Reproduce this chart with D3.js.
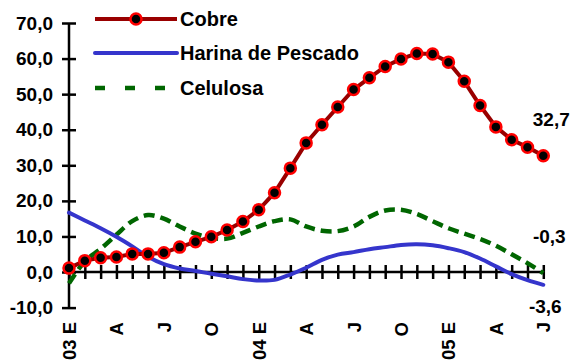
<!DOCTYPE html>
<html>
<head>
<meta charset="utf-8">
<script src="https://cdn.jsdelivr.net/npm/d3@7"></script>
<style>
  html, body { margin: 0; padding: 0; background: #fff; }
  svg { display: block; font-family: Arial, "Liberation Sans", sans-serif; }
</style>
</head>
<body>
<svg id="chart" width="573" height="363"></svg>
<script>
// Monthly series, Jan 2003 – Jul 2005 (31 months)
const months = ["03 E","F","M","A","M","J","J","A","S","O","N","D",
                "04 E","F","M","A","M","J","J","A","S","O","N","D",
                "05 E","F","M","A","M","J","J"];

const cobre = [1.1, 3.2, 4.0, 4.2, 5.1, 5.1, 5.4, 7.0, 8.5, 9.9, 11.8, 14.2,
               17.5, 22.3, 29.2, 36.3, 41.4, 46.4, 51.3, 54.6, 57.8, 59.9, 61.4, 61.3,
               59.0, 53.6, 46.8, 40.8, 37.2, 35.1, 32.7];

const harina = [16.7, 14.5, 12.3, 9.9, 7.2, 4.3, 2.2, 1.0, 0.3, -0.5, -1.2, -2.0,
                -2.4, -2.2, -0.7, 1.2, 3.4, 4.9, 5.6, 6.4, 7.0, 7.6, 7.8, 7.5,
                6.7, 5.6, 3.8, 1.6, -0.6, -2.3, -3.6];

const celulosa = [-3.2, 3.0, 6.5, 10.5, 14.3, 16.0, 15.0, 12.8, 10.8, 9.6, 9.4, 11.0,
                  12.8, 14.3, 14.8, 12.8, 11.6, 11.5, 12.8, 15.5, 17.3, 17.5, 16.3, 14.3,
                  12.3, 10.8, 9.3, 7.4, 5.0, 2.5, -0.3];

const seriesNames = ["Cobre", "Harina de Pescado", "Celulosa"];
const yTicks = [-10, 0, 10, 20, 30, 40, 50, 60, 70];

const svg = d3.select("#chart");

const x = d3.scaleLinear().domain([0, months.length - 1]).range([69, 543.3]);
const y = d3.scaleLinear().domain([-10, 70]).range([307.6, 23]);

const locale = d3.formatLocale({ decimal: ",", thousands: ".", grouping: [3], currency: ["$", ""], minus: "-" });
const fmt = locale.format(".1f");

// Vertical axis
const yAxis = svg.append("g")
  .attr("transform", `translate(${x(0)},0)`)
  .call(d3.axisLeft(y).tickValues(yTicks).tickSize(7).tickPadding(9).tickFormat(fmt));
yAxis.select(".domain").attr("stroke", "#000").attr("stroke-width", 2.5).attr("d", `M0,${y(-10)}V${y(70)}`);
yAxis.selectAll(".tick line").attr("x1", -7).attr("x2", 7).attr("stroke", "#000").attr("stroke-width", 2.5);
yAxis.selectAll(".tick text")
  .attr("font-size", 19).attr("font-weight", "bold").attr("fill", "#000")
  .attr("font-family", "Arial, 'Liberation Sans', sans-serif");

// Horizontal axis at zero; every month ticked, every third labelled
const idx = d3.range(months.length);
const xAxis = svg.append("g")
  .attr("transform", `translate(0,${y(0)})`)
  .call(d3.axisBottom(x).tickValues(idx).tickSize(7).tickFormat(i => (i % 3 === 0 ? months[i] : "")));
xAxis.select(".domain").attr("stroke", "#000").attr("stroke-width", 2.5).attr("d", `M${x(0)},0H${x(months.length - 1)}`);
xAxis.selectAll(".tick line").attr("y1", -7).attr("y2", 7).attr("stroke", "#000").attr("stroke-width", 2.5);
xAxis.selectAll(".tick text")
  .attr("font-size", 18.5).attr("font-weight", "bold").attr("fill", "#000")
  .attr("font-family", "Arial, 'Liberation Sans', sans-serif")
  .attr("text-anchor", "end")
  .attr("dy", "0.35em")
  .attr("transform", "translate(0,50) rotate(-90)")
  .attr("x", 0).attr("y", 0);

// Series lines
const lineSmooth = d3.line().x((d, i) => x(i)).y(d => y(d)).curve(d3.curveCatmullRom.alpha(0.5));
const lineStraight = d3.line().x((d, i) => x(i)).y(d => y(d));

svg.append("path").datum(celulosa)
  .attr("d", lineSmooth).attr("fill", "none")
  .attr("stroke", "#006600").attr("stroke-width", 4.5).attr("stroke-dasharray", "11,6");

svg.append("path").datum(harina)
  .attr("d", lineSmooth).attr("fill", "none")
  .attr("stroke", "#3535cc").attr("stroke-width", 4).attr("stroke-linecap", "round");

svg.append("path").datum(cobre)
  .attr("d", lineStraight).attr("fill", "none")
  .attr("stroke", "#990000").attr("stroke-width", 4);

svg.append("g").selectAll("circle").data(cobre).join("circle")
  .attr("cx", (d, i) => x(i)).attr("cy", d => y(d)).attr("r", 5.5)
  .attr("fill", "#000").attr("stroke", "#ff0000").attr("stroke-width", 2.5);

// End-of-series value labels
const last = months.length - 1;
const endLabels = [
  { v: cobre[last], dx: 8, dy: -36 },
  { v: celulosa[last], dx: 6, dy: -37 },
  { v: harina[last], dx: 2, dy: 22 }
];
svg.append("g").selectAll("text").data(endLabels).join("text")
  .attr("x", d => x(last) + d.dx).attr("y", d => y(d.v) + d.dy)
  .attr("text-anchor", "middle").attr("dominant-baseline", "central")
  .attr("font-size", 19).attr("font-weight", "bold").attr("fill", "#000")
  .text(d => fmt(d.v));

// Legend
const legend = svg.append("g");
const legendY = [19, 53, 88];
legend.append("line").attr("x1", 95).attr("x2", 177).attr("y1", legendY[0]).attr("y2", legendY[0])
  .attr("stroke", "#990000").attr("stroke-width", 4);
legend.append("circle").attr("cx", 136).attr("cy", legendY[0]).attr("r", 5.5)
  .attr("fill", "#000").attr("stroke", "#ff0000").attr("stroke-width", 2.5);
legend.append("line").attr("x1", 95).attr("x2", 177).attr("y1", legendY[1]).attr("y2", legendY[1])
  .attr("stroke", "#3535cc").attr("stroke-width", 4).attr("stroke-linecap", "round");
legend.append("line").attr("x1", 95).attr("x2", 177).attr("y1", legendY[2]).attr("y2", legendY[2])
  .attr("stroke", "#006600").attr("stroke-width", 4.5).attr("stroke-dasharray", "10,20");
legend.selectAll("text").data(seriesNames).join("text")
  .attr("x", 180).attr("y", (d, i) => legendY[i])
  .attr("dominant-baseline", "central")
  .attr("font-size", 20).attr("font-weight", "bold").attr("fill", "#000")
  .text(d => d);
</script>
</body>
</html>
